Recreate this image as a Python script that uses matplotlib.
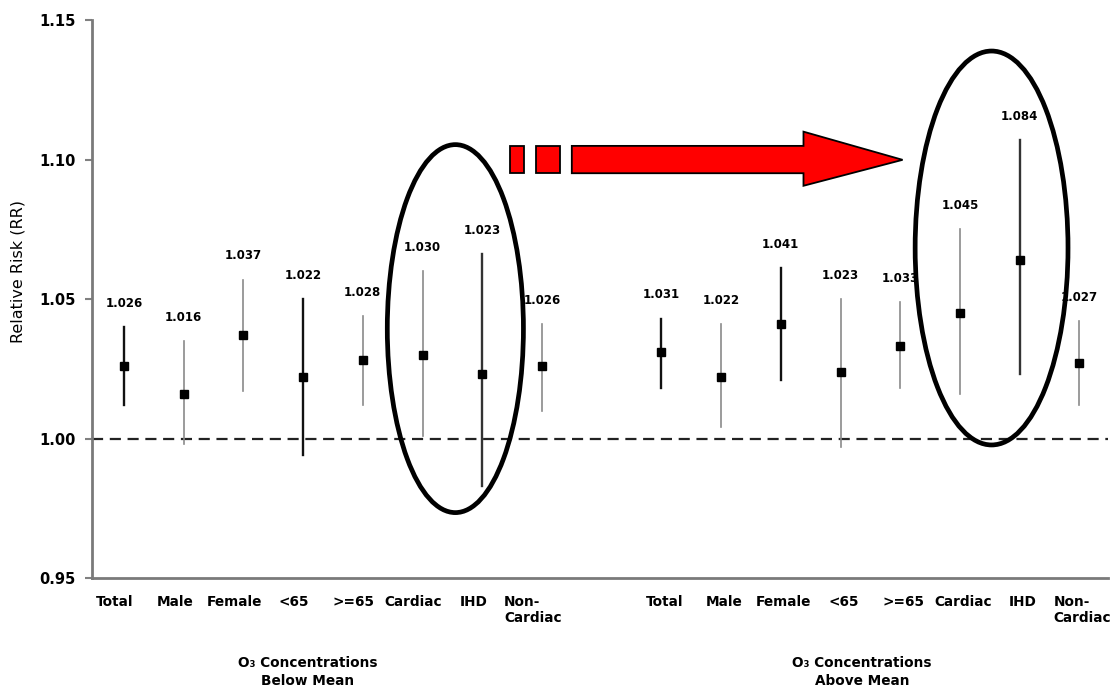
import numpy as np
import matplotlib
matplotlib.use("Agg")
import matplotlib.pyplot as plt
from matplotlib.patches import Ellipse, Polygon, Rectangle
from matplotlib.transforms import ScaledTranslation, blended_transform_factory

plt.rcParams['font.family'] = ['DejaVu Sans']

## categories (same for both ozone groups)
categories = ["Total", "Male", "Female", "<65", ">=65", "Cardiac", "IHD", "Non-\nCardiac"]
groups = ["O\u2083 Concentrations\nBelow Mean", "O\u2083 Concentrations\nAbove Mean"]

## relative risk and 95% CI
rr_below = [1.026, 1.016, 1.037, 1.022, 1.028, 1.030, 1.023, 1.026]
lo_below = [1.012, 0.998, 1.017, 0.994, 1.012, 1.001, 0.983, 1.010]
hi_below = [1.040, 1.035, 1.057, 1.050, 1.044, 1.060, 1.066, 1.041]

rr_above = [1.031, 1.022, 1.041, 1.024, 1.033, 1.045, 1.064, 1.027]
lo_above = [1.018, 1.004, 1.021, 0.997, 1.018, 1.016, 1.023, 1.012]
hi_above = [1.043, 1.041, 1.061, 1.050, 1.049, 1.075, 1.107, 1.042]

## printed labels (the IHD label in the source says 1.084)
lab_below = ["1.026", "1.016", "1.037", "1.022", "1.028", "1.030", "1.023", "1.026"]
lab_above = ["1.031", "1.022", "1.041", "1.023", "1.033", "1.045", "1.084", "1.027"]

## line styles of the CI bars
col_below = ["#111111", "#8a8a8a", "#8a8a8a", "#111111", "#8a8a8a", "#8a8a8a", "#333333", "#8a8a8a"]
col_above = ["#111111", "#8a8a8a", "#111111", "#8a8a8a", "#8a8a8a", "#8a8a8a", "#333333", "#8a8a8a"]


def main():
    fig = plt.figure(figsize=(11.2, 6.92), dpi=100)
    ax = fig.add_axes([0.0821, 0.1647, 0.9893 - 0.0821, 0.971 - 0.1647])

    n = len(categories)
    x1 = np.arange(n)
    x2 = np.arange(n) + n + 1
    xs = np.concatenate([x1, x2])
    rr = rr_below + rr_above
    lo = lo_below + lo_above
    hi = hi_below + hi_above
    labs = lab_below + lab_above
    cols = col_below + col_above

    ax.axhline(1.0, color="#222222", lw=1.6, ls=(0, (5, 3)), zorder=1)

    for x, r, l, h, t, c in zip(xs, rr, lo, hi, labs, cols):
        lw = 1.7 if c != "#8a8a8a" else 1.2
        ax.plot([x, x], [l, h], color=c, lw=lw, zorder=2)
        ax.plot(x, r, marker="s", ms=5.5, color="black", zorder=3)
        ax.annotate(t, (x, h), xytext=(0, 17), textcoords="offset points",
                    ha="center", va="center", fontsize=8.5, fontweight="bold", zorder=4)

    ax.set_xlim(-0.536, 16.48)
    ax.set_ylim(0.95, 1.15)
    ax.set_yticks(np.arange(0.95, 1.151, 0.05))
    ax.set_yticklabels(["%.2f" % v for v in np.arange(0.95, 1.151, 0.05)],
                       fontsize=10.5, fontweight="bold")
    ax.tick_params(axis="y", length=5, width=1.5, color="#808080", pad=7)

    ax.set_xticks(xs)
    ax.set_xticklabels(categories * 2, fontsize=9.8, fontweight="bold",
                       multialignment="left", va="top")
    ax.tick_params(axis="x", length=0, pad=12)
    shift = ScaledTranslation(-9 / 100, 0, fig.dpi_scale_trans)
    for lab in ax.get_xticklabels()[:n]:
        lab.set_transform(lab.get_transform() + shift)
    shift2 = ScaledTranslation(3 / 100, 0, fig.dpi_scale_trans)
    for lab in ax.get_xticklabels()[n:]:
        lab.set_transform(lab.get_transform() + shift2)

    for s in ["top", "right"]:
        ax.spines[s].set_visible(False)
    for s in ["left", "bottom"]:
        ax.spines[s].set_color("#7a7a7a")
        ax.spines[s].set_linewidth(2)

    ax.set_ylabel("Relative Risk (RR)", fontsize=11.5)
    ax.yaxis.set_label_coords(-0.065, 0.55)

    tr = blended_transform_factory(ax.transData, fig.transFigure)
    ax.text(3.07, 1 - 672 / 692, groups[0], transform=tr, ha="center", va="center",
            fontsize=9.8, fontweight="bold", linespacing=1.35,
            family=["DejaVu Sans"])
    ax.text(12.36, 1 - 672 / 692, groups[1], transform=tr, ha="center", va="center",
            fontsize=9.8, fontweight="bold", linespacing=1.35,
            family=["DejaVu Sans"])

    ## ellipses round cardiac / IHD
    e1 = Ellipse((5.55, 1.0394), 2.28, 0.1319, fill=False, ec="black", lw=3.4, zorder=5)
    e2 = Ellipse((14.53, 1.0683), 2.56, 0.1412, fill=False, ec="black", lw=3.4, zorder=5)
    ax.add_patch(e1)
    ax.add_patch(e2)

    ## red arrow
    yb, yt = 1.0951, 1.1049
    ax.add_patch(Rectangle((6.466, yb), 0.234, yt - yb, fc="red", ec="black", lw=1.3, zorder=5))
    ax.add_patch(Rectangle((6.896, yb), 0.407, yt - yb, fc="red", ec="black", lw=1.3, zorder=5))
    arrow = Polygon([(7.50, yb), (11.38, yb), (11.38, 1.0906), (13.04, 1.0999),
                     (11.38, 1.1100), (11.38, yt), (7.50, yt)],
                    closed=True, fc="red", ec="black", lw=1.3, zorder=5)
    ax.add_patch(arrow)

    fig.savefig("out.png", dpi=100)


if __name__ == '__main__':
    main()
